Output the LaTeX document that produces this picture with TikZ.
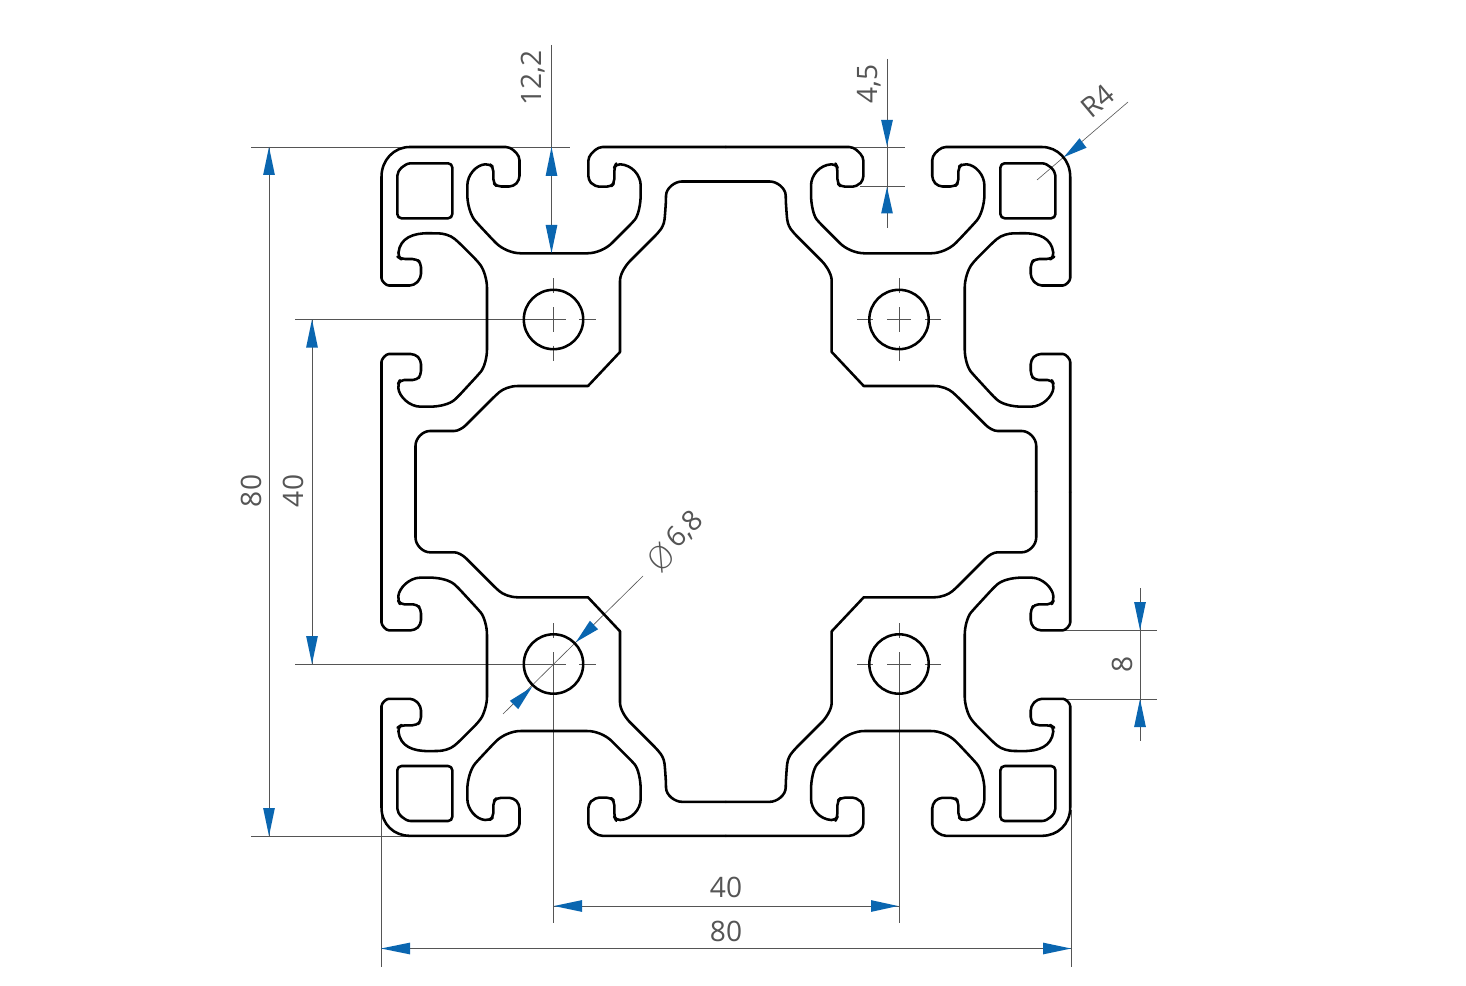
\documentclass[tikz,border=0pt]{standalone}
\usepackage{fontspec}
\setmainfont{Open Sans}
\newfontfamily\symfont{DejaVu Sans ExtraLight}
\usetikzlibrary{calc}
\definecolor{dimgray}{HTML}{555555}
\definecolor{arrowblue}{HTML}{0A66B0}
\tikzset{
  dimline/.style={draw=dimgray,line width=0.5pt},
  thinline/.style={draw=dimgray,line width=0.35pt},
  profile/.style={draw=black,line width=1.45pt,rounded corners=2.4pt,line join=round},
  dimtext/.style={text=dimgray,font=\fontsize{16pt}{18pt}\selectfont,inner sep=0pt}
}
\newcommand{\dimarrow}[2]{\fill[arrowblue] (#1) -- ($(#2)!0.118cm!90:(#1)$) -- ($(#2)!0.118cm!-90:(#1)$) -- cycle;}
\newcommand{\outerq}[1]{%
  \draw[profile] (381.5,492.35) -- (381.5,366) .. controls (381.5,359) and (386,354) .. (393,354) -- (415,354) -- (421,360) -- (421,375) -- (417,380) -- (400,380) -- (398,384) .. controls (399,396) and (409,406.7) .. (425,406.7) .. controls (440,406.7) and (450,404) .. (458,396.7) -- (478,375) .. controls (484,368) and (487,358) .. (487,345) -- (487,292) .. controls (487,280) and (484,270) .. (478,261.7) -- (458,241.7) .. controls (450,235) and (443,233.3) .. (433,233.3) .. controls (413,233) and (400,238) .. (398,257) -- (401,259) -- (416.5,259) -- (421,263) -- (421,278) -- (414,285.5) -- (393,285.5) .. controls (386,285.5) and (381.5,281) .. (381.5,274) -- (381.5,181) .. controls (381.5,160) and (394,#1) .. (414,#1) -- (510,#1) -- (519.5,156) -- (519.5,180) -- (513.5,186.5) -- (497,186.5) -- (493.3,183) -- (493.3,167) -- (489.3,164) .. controls (476,165) and (467.3,175) .. (467.3,190) .. controls (467.3,205) and (471,216) .. (478,224) -- (493,240) .. controls (502,249) and (512,253.3) .. (525,253.3) -- (583,253.3) .. controls (596,253.3) and (606,249) .. (615,240) -- (632,223) .. controls (638,216) and (640.7,205) .. (640.7,190) .. controls (640.7,175) and (632,165) .. (616,164) -- (614.3,167.3) -- (614.3,183.3) -- (610.7,186.7) -- (595,186.7) -- (588.3,180) -- (588.3,156.7) -- (598.3,#1) -- (726.1,#1);
}
\newcommand{\innerq}{%
  \draw[profile] (726.1,181.5) -- (686,181.5) .. controls (675,181.5) and (666,188) .. (666,200) -- (665,215) .. controls (664,225) and (661,229) .. (658,233) -- (633,258) .. controls (627,264) and (620,273) .. (620,285) [sharp corners] -- (620,352) -- (588,386) -- (518,386) [rounded corners=2.4pt] .. controls (510,386) and (503,389) .. (496,395) -- (469,422) .. controls (463,428) and (458,431) .. (450,431) -- (434,431) .. controls (423,431) and (415.5,438) .. (415.5,450) -- (415.5,491.95);
}
\newcommand{\pocket}{%
  \draw[profile] (397.3,180) .. controls (397.3,170) and (405,163.3) .. (415,163.3) -- (452.3,163.3) -- (452.3,218.3) -- (397.3,218.3) -- cycle;
}
\begin{document}
\begin{tikzpicture}[x=0.02cm,y=-0.02cm]
\useasboundingbox (0,0) rectangle (1466,986);
\fill[white] (0,0) rectangle (1466,986);
% centre marks
\foreach \cx/\cy in {553.5/319.5,899/319.5}{
  \draw[dimline] (\cx,\cy-41) -- (\cx,\cy-26) (\cx,\cy-12) -- (\cx,\cy+12) (\cx,\cy+26) -- (\cx,\cy+41);
}
\foreach \cx/\cy in {553.5/664,899/664}{
  \draw[dimline] (\cx,\cy-41) -- (\cx,\cy-26) (\cx,\cy-12) -- (\cx,923);
}
\foreach \cy in {319.5,664}{
  \draw[dimline] (295,\cy) -- (565.5,\cy) (579,\cy) -- (596,\cy);
  \draw[dimline] (857,\cy) -- (873,\cy) (887,\cy) -- (911,\cy) (925,\cy) -- (941,\cy);
}
% dimension lines
\draw[dimline] (251,147) -- (570,147) (251,836) -- (410,836);
\draw[dimline] (269,147) -- (269,836);
\draw[dimline] (312,319.5) -- (312,664);
\draw[dimline] (551.5,45) -- (551.5,253);
\draw[dimline] (887,59) -- (887,228) (855,147) -- (905,147) (860,186) -- (905,186);
\draw[thinline] (1128,102) -- (1037,180);
\draw[thinline] (643,576) -- (503,714);
\draw[dimline] (1060,630) -- (1157,630) (1062,699) -- (1157,699) (1140,588) -- (1140,741);
\draw[dimline] (553.5,906) -- (899,906);
\draw[dimline] (381,948.5) -- (1071,948.5) (381,810) -- (381,967) (1071,810) -- (1071,967);
% profile
\outerq{147}
\begin{scope}[xshift=29.04cm,xscale=-1]\outerq{147}\end{scope}
\begin{scope}[yshift=-19.69cm,yscale=-1]\outerq{148.5}\end{scope}
\begin{scope}[xshift=29.04cm,xscale=-1,yshift=-19.69cm,yscale=-1]\outerq{148.5}\end{scope}
\innerq
\begin{scope}[xshift=29.04cm,xscale=-1]\innerq\end{scope}
\begin{scope}[yshift=-19.67cm,yscale=-1]\innerq\end{scope}
\begin{scope}[xshift=29.04cm,xscale=-1,yshift=-19.67cm,yscale=-1]\innerq\end{scope}
\pocket
\begin{scope}[xshift=29.06cm,xscale=-1]\pocket\end{scope}
\begin{scope}[yshift=-19.69cm,yscale=-1]\pocket\end{scope}
\begin{scope}[xshift=29.06cm,xscale=-1,yshift=-19.69cm,yscale=-1]\pocket\end{scope}
\foreach \cx/\cy in {553.5/319.5,899/319.5,553.5/664,899/664}{
  \draw[draw=black,line width=1.45pt] (\cx,\cy) circle (0.594cm);
}
% arrows
\dimarrow{269,147}{269,175}
\dimarrow{269,836}{269,808}
\dimarrow{312,319.5}{312,347.5}
\dimarrow{312,664}{312,636}
\dimarrow{551.5,147}{551.5,176}
\dimarrow{551.5,253}{551.5,225}
\dimarrow{887,146}{887,120}
\dimarrow{887,187}{887,213.5}
\dimarrow{1064,157}{1083,143}
\dimarrow{576,642}{594,625}
\dimarrow{532,687}{514,705}
\dimarrow{1140,630}{1140,602}
\dimarrow{1140,699}{1140,727}
\dimarrow{554,906}{582,906}
\dimarrow{898,906}{871,906}
\dimarrow{381,948.5}{410,948.5}
\dimarrow{1071,948.5}{1043,948.5}
% labels
\node[dimtext,rotate=90] (t80a) at (251,491) {80};
\node[dimtext,rotate=90] (t40a) at (293,491) {40};
\node[dimtext,rotate=90] (t122) at (533,78) {12,2};
\node[dimtext,rotate=90] (t45) at (869,84) {4,5};
\node[dimtext,rotate=40] (tr4) at (1098,101) {R4};
\node[dimtext,rotate=45,font=\fontsize{18pt}{20pt}\symfont] (tphi) at (660.7,558) {Ø};
\node[dimtext,rotate=45] (t68) at (685,530) {6,8};
\node[dimtext,rotate=90] (t8) at (1122,664) {8};
\node[dimtext] (t40b) at (726,887) {40};
\node[dimtext] (t80b) at (726,931) {80};
\end{tikzpicture}
\end{document}
